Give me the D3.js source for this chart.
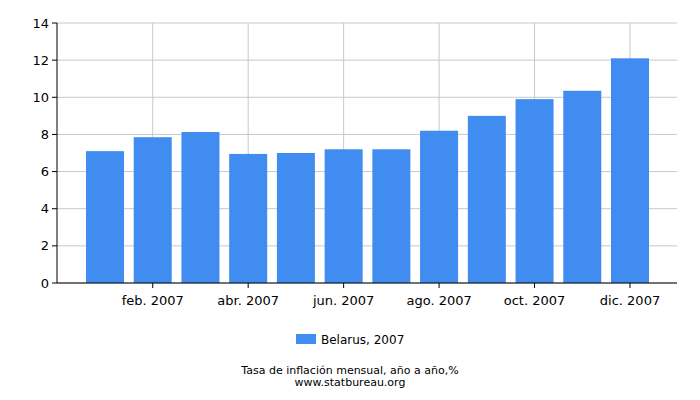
<!DOCTYPE html><html><head><meta charset="utf-8"><script src="https://cdn.jsdelivr.net/npm/d3@7"></script>
<style>body{margin:0;background:#fff}text{font-family:"DejaVu Sans",sans-serif}</style></head><body><svg id="c" width="700" height="400"></svg><script>
const months=["ene. 2007","feb. 2007","mar. 2007","abr. 2007","may. 2007","jun. 2007","jul. 2007","ago. 2007","sep. 2007","oct. 2007","nov. 2007","dic. 2007"];
const values=[7.1,7.85,8.13,6.95,7.0,7.2,7.2,8.2,9.0,9.9,10.35,12.1];
const yTicks=[0,2,4,6,8,10,12,14];
const svg=d3.select("#c");
const L=57,R=677,T=23,B=283;
const y=d3.scaleLinear().domain([0,14]).range([B,T]);
const x=d3.scaleLinear().domain([0,11]).range([105,630]);
const g=svg.append("g");
yTicks.forEach(t=>{g.append("line").attr("x1",L).attr("x2",R).attr("y1",y(t)).attr("y2",y(t)).attr("stroke","#c8c8c8");
g.append("line").attr("x1",L-5).attr("x2",L).attr("y1",y(t)).attr("y2",y(t)).attr("stroke","#000");
g.append("text").attr("x",L-8).attr("y",y(t)+4.5).attr("text-anchor","end").attr("font-size",13).text(t);});
months.forEach((m,i)=>{if(i%2==1){g.append("line").attr("x1",x(i)).attr("x2",x(i)).attr("y1",T).attr("y2",B).attr("stroke","#c8c8c8");
g.append("line").attr("x1",x(i)).attr("x2",x(i)).attr("y1",B).attr("y2",B+5).attr("stroke","#000");
g.append("text").attr("x",x(i)).attr("y",B+22).attr("text-anchor","middle").attr("font-size",13).text(m);}});
g.selectAll("rect.b").data(values).join("rect").attr("x",(d,i)=>x(i)-19).attr("width",38).attr("y",d=>y(d)).attr("height",d=>B-y(d)).attr("fill","#418cf0");
g.append("line").attr("x1",L).attr("x2",L).attr("y1",T).attr("y2",B).attr("stroke","#000");
g.append("line").attr("x1",L).attr("x2",R).attr("y1",B).attr("y2",B).attr("stroke","#000");
svg.append("rect").attr("x",296).attr("y",334).attr("width",20).attr("height",10).attr("fill","#418cf0");
svg.append("text").attr("x",321).attr("y",344).attr("font-size",12).text("Belarus, 2007");
svg.append("text").attr("x",350).attr("y",374).attr("text-anchor","middle").attr("font-size",11).text("Tasa de inflación mensual, año a año,%");
svg.append("text").attr("x",350).attr("y",385.5).attr("text-anchor","middle").attr("font-size",11).text("www.statbureau.org");
</script></body></html>
